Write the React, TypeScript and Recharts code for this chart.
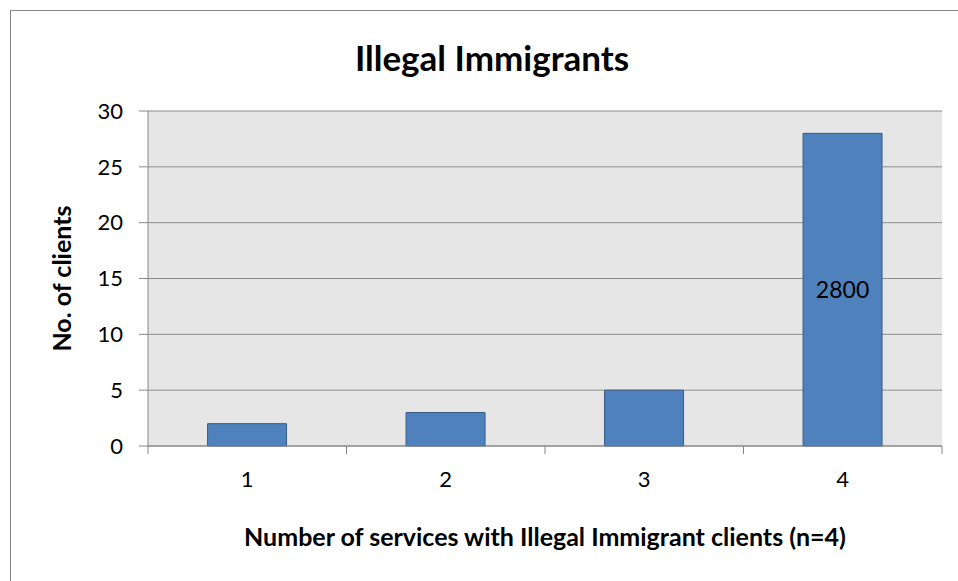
import React from 'react';
import { BarChart, Bar, XAxis, YAxis, CartesianGrid, LabelList, Label } from 'recharts';

const categories = ['1', '2', '3', '4'];
const clientCounts = [2, 3, 5, 28];
const barLabels = ['', '', '', '2800'];
const yTicks = [0, 5, 10, 15, 20, 25, 30];

const FONT = 'Lato, "Open Sans", sans-serif';
const PLOT_LEFT = 148;
const PLOT_RIGHT = 942;
const BAND = (PLOT_RIGHT - PLOT_LEFT) / categories.length;

const data = categories.map((c, i) => ({
  name: c,
  clients: clientCounts[i],
  label: barLabels[i],
}));

// category label in the middle, tick marks on the band edges like Excel
const CategoryTick = (props: any) => {
  const { x, y, payload, index } = props;
  const last = index === categories.length - 1;
  return (
    <g>
      <line x1={x - BAND / 2} y1={y - 8} x2={x - BAND / 2} y2={y} stroke="#868686" />
      {last && <line x1={x + BAND / 2} y1={y - 8} x2={x + BAND / 2} y2={y} stroke="#868686" />}
      <text x={x} y={y + 33} textAnchor="middle" fontSize={22} fontFamily={FONT} fill="#000">
        {payload.value}
      </text>
    </g>
  );
};

const App: React.FC = () => {
  return (
    <div style={{ position: 'absolute', left: 0, top: 0, width: 958, height: 581, background: '#fff', overflow: 'hidden' }}>
      <div
        style={{
          position: 'absolute',
          left: 10,
          top: 10,
          width: 980,
          height: 600,
          border: '1px solid #868686',
          boxSizing: 'border-box',
        }}
      />
      <div
        style={{
          position: 'absolute',
          left: 0,
          top: 37,
          width: 984,
          textAlign: 'center',
          fontFamily: FONT,
          fontWeight: 'bold',
          fontSize: 35,
          lineHeight: '40px',
          color: '#000',
        }}
      >
        Illegal Immigrants
      </div>
      <div style={{ position: 'absolute', left: 0, top: 0 }}>
        <BarChart
          width={958}
          height={581}
          data={data}
          margin={{ top: 111, right: 958 - PLOT_RIGHT, bottom: 40, left: 60 }}
          barCategoryGap="30%"
        >
          <CartesianGrid vertical={false} stroke="#8c8c8c" fill="#e6e6e6" fillOpacity={1} />
          <XAxis
            dataKey="name"
            axisLine={{ stroke: '#868686' }}
            tickLine={false}
            tick={<CategoryTick />}
            height={95}
            interval={0}
          >
            <Label
              value="Number of services with Illegal Immigrant clients (n=4)"
              position="insideBottom"
              offset={-5}
              style={{ fontFamily: FONT, fontWeight: 'bold', fontSize: 25, fill: '#000' }}
            />
          </XAxis>
          <YAxis
            domain={[0, 30]}
            ticks={yTicks}
            width={PLOT_LEFT - 60}
            axisLine={{ stroke: '#868686' }}
            tickLine={{ stroke: '#868686' }}
            tickSize={9}
            tickMargin={16}
            tick={{ fontFamily: FONT, fontSize: 22, fill: '#000' }}
          >
            <Label
              value="No. of clients"
              angle={-90}
              position="insideLeft"
              offset={2}
              style={{ fontFamily: FONT, fontWeight: 'bold', fontSize: 25, fill: '#000', textAnchor: 'middle' }}
            />
          </YAxis>
          <Bar dataKey="clients" fill="#4f81bd" stroke="#385d8a" strokeWidth={1} isAnimationActive={false}>
            <LabelList dataKey="label" position="center" style={{ fontFamily: FONT, fontSize: 23, fill: '#000' }} />
          </Bar>
        </BarChart>
      </div>
    </div>
  );
};

export default App;
